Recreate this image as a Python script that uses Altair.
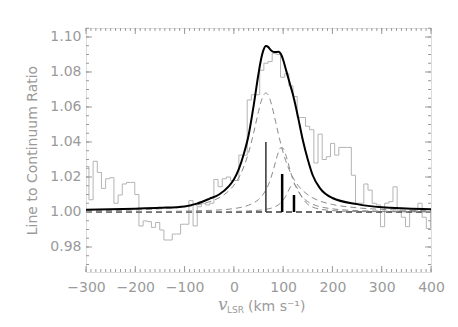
import altair as alt
import pandas as pd
import numpy as np

# ---------------- data ----------------
# observed spectrum: channel width and first channel edge (km/s)
chan_width = 8.45
first_edge = -302.45
hist_values = [
    1.026, 1.007, 1.029, 1.0226, 1.0135, 1.019, 1.0196, 1.005, 1.0097, 1.0160,
    1.0169, 1.0169, 1.0100, 0.9920, 0.9949, 0.9945, 0.9912, 0.9940, 0.9897, 0.9840,
    0.9840, 0.9874, 0.9874, 0.9930, 0.9930, 1.0065, 0.9920, 1.0030, 1.0050, 1.0040,
    1.0050, 1.0186, 1.0145, 1.0190, 1.0200, 1.0180, 1.0180, 1.0325, 1.0325, 1.0640,
    1.0670, 1.0670, 1.0810, 1.0850, 1.0860, 1.0906, 1.0900, 1.0770, 1.0790, 1.0720,
    1.0660, 1.0540, 1.0540, 1.0490, 1.0470, 1.0280, 1.0445, 1.0300, 1.0316, 1.0392,
    1.0325, 1.0369, 1.0369, 1.0369, 1.0210, 1.0050, 1.0050, 1.0160, 1.0125, 1.0050,
    1.0040, 0.9916, 1.0050, 1.0059, 1.0144, 1.0010, 0.9970, 0.9916, 1.0010, 1.0010,
    1.0050, 0.9970, 0.9906, 1.0010,
]

# model curves, sampled at these velocities
model_v = [-300, -250, -200, -150, -100, -75, -50, -30, -10, 0, 10, 20, 30, 40, 50,
           55, 60, 65, 70, 75, 80, 85, 90, 95, 100, 105, 110, 115, 120, 125, 130,
           140, 150, 160, 175, 200, 250, 300, 350, 400]
model_total = [1.0013, 1.0015, 1.0019, 1.0024, 1.0032, 1.0048, 1.0075, 1.0100, 1.0148,
               1.0185, 1.0245, 1.0330, 1.0440, 1.0605, 1.0790, 1.0870, 1.0925, 1.0948,
               1.0942, 1.0925, 1.0915, 1.0914, 1.0915, 1.0905, 1.0870, 1.0820, 1.0770,
               1.0720, 1.0670, 1.0610, 1.0545, 1.0410, 1.0300, 1.0210, 1.0135, 1.0080,
               1.0045, 1.0027, 1.0020, 1.0016]
comp1 = [1.0006, 1.0008, 1.0012, 1.0018, 1.0029, 1.0040, 1.0058, 1.0081, 1.0122, 1.0153,
         1.0196, 1.0257, 1.0340, 1.0450, 1.0574, 1.0629, 1.0667, 1.0680, 1.0667, 1.0629,
         1.0574, 1.0512, 1.0450, 1.0392, 1.0340, 1.0295, 1.0257, 1.0224, 1.0196, 1.0173,
         1.0153, 1.0122, 1.0099, 1.0081, 1.0062, 1.0043, 1.0024, 1.0015, 1.0010, 1.0007]
comp2 = [1.0001, 1.0002, 1.0002, 1.0003, 1.0005, 1.0007, 1.0009, 1.0012, 1.0016, 1.0020,
         1.0024, 1.0030, 1.0039, 1.0052, 1.0071, 1.0085, 1.0103, 1.0126, 1.0155, 1.0193,
         1.0239, 1.0291, 1.0339, 1.0367, 1.0364, 1.0330, 1.0281, 1.0230, 1.0185, 1.0149,
         1.0121, 1.0082, 1.0059, 1.0044, 1.0030, 1.0018, 1.0008, 1.0005, 1.0003, 1.0002]
comp3 = [1.0000, 1.0001, 1.0001, 1.0001, 1.0001, 1.0002, 1.0002, 1.0002, 1.0003, 1.0004,
         1.0004, 1.0005, 1.0006, 1.0008, 1.0010, 1.0011, 1.0013, 1.0015, 1.0018, 1.0021,
         1.0026, 1.0032, 1.0040, 1.0052, 1.0068, 1.0089, 1.0117, 1.0144, 1.0160, 1.0153,
         1.0128, 1.0076, 1.0044, 1.0028, 1.0016, 1.0008, 1.0003, 1.0002, 1.0001, 1.0001]

# component markers (sticks)
stick_v = [65, 98, 122]
stick_top = [1.040, 1.0217, 1.0097]

# axis ticks
x_major = [-300, -200, -100, 0, 100, 200, 300, 400]
y_major = [0.98, 1.00, 1.02, 1.04, 1.06, 1.08, 1.10]

# ---------------- layout ----------------
W, H = 345, 244
XDOM = [-300, 400]
YDOM = [0.96571, 1.10514]
GREY = "#9a9a9a"
FONT = "DejaVu Sans"

xs = alt.Scale(domain=XDOM, nice=False, zero=False)
ys = alt.Scale(domain=YDOM, nice=False, zero=False)

edges = [round(first_edge + i * chan_width, 2) for i in range(len(hist_values) + 1)]
hist_df = pd.DataFrame({"v": edges, "r": hist_values + [hist_values[-1]]})

model_df = pd.DataFrame({"v": model_v, "total": model_total,
                         "c1": comp1, "c2": comp2, "c3": comp3})
comp_long = model_df.melt(id_vars="v", value_vars=["c1", "c2", "c3"],
                          var_name="comp", value_name="r")

x_enc = alt.X("v:Q", scale=xs,
              axis=alt.Axis(values=x_major, ticks=False, domain=False, grid=False,
                            labelFontSize=14, labelColor=GREY, labelFont=FONT,
                            labelPadding=8, title=None, format="d",
                            labelOverlap=False, labelBound=False, labelFlush=False))
y_enc = alt.Y("r:Q", scale=ys,
              axis=alt.Axis(values=y_major, ticks=False, domain=False, grid=False,
                            labelFontSize=14, labelColor=GREY, labelFont=FONT,
                            labelPadding=5, format=".2f", labelOverlap=False,
                            title="Line to Continuum Ratio", titleFontSize=14,
                            titleColor=GREY, titleFont=FONT, titleFontWeight="normal",
                            titlePadding=10))

hist = alt.Chart(hist_df).mark_line(interpolate="step-after", color="#b4b4b4",
                                    strokeWidth=1, clip=True).encode(x=x_enc, y=y_enc)

baseline = alt.Chart(pd.DataFrame({"v": XDOM, "r": [1.0, 1.0]})).mark_line(
    color="#6a6a6a", strokeWidth=2, strokeDash=[6, 4]).encode(
    x=alt.X("v:Q", scale=xs), y=alt.Y("r:Q", scale=ys))

comps = alt.Chart(comp_long).mark_line(
    color="#8a8a8a", strokeWidth=1, strokeDash=[6, 4], interpolate="monotone",
    clip=True).encode(x=alt.X("v:Q", scale=xs), y=alt.Y("r:Q", scale=ys),
                      detail="comp:N")

total = alt.Chart(model_df).mark_line(color="black", strokeWidth=2,
                                      interpolate="monotone", clip=True).encode(
    x=alt.X("v:Q", scale=xs), y=alt.Y("total:Q", scale=ys))

stick_df = pd.DataFrame({"v": stick_v, "top": stick_top, "base": [1.0] * 3,
                         "w": [1.5, 2.5, 2.5], "c": ["#333333", "black", "black"]})
sticks = alt.Chart(stick_df).mark_rule().encode(
    x=alt.X("v:Q", scale=xs), y=alt.Y("base:Q", scale=ys), y2="top:Q",
    strokeWidth=alt.StrokeWidth("w:Q", scale=None),
    color=alt.Color("c:N", scale=None))

# inward ticks on all four sides
x_minor = list(range(-300, 401, 10))
y_minor = [round(0.97 + 0.005 * i, 3) for i in range(28)]
xt_maj = pd.DataFrame({"v": x_major})
xt_min = pd.DataFrame({"v": x_minor})
yt_maj = pd.DataFrame({"r": y_major})
yt_min = pd.DataFrame({"r": y_minor})
tick_style = dict(color=GREY, strokeWidth=1)
ticks = []
for df, ln in ((xt_maj, 6), (xt_min, 3)):
    ticks.append(alt.Chart(df).mark_rule(**tick_style).encode(
        x=alt.X("v:Q", scale=xs), y=alt.value(H), y2=alt.value(H - ln)))
    ticks.append(alt.Chart(df).mark_rule(**tick_style).encode(
        x=alt.X("v:Q", scale=xs), y=alt.value(0), y2=alt.value(ln)))
for df, ln in ((yt_maj, 6), (yt_min, 3)):
    ticks.append(alt.Chart(df).mark_rule(**tick_style).encode(
        y=alt.Y("r:Q", scale=ys), x=alt.value(0), x2=alt.value(ln)))
    ticks.append(alt.Chart(df).mark_rule(**tick_style).encode(
        y=alt.Y("r:Q", scale=ys), x=alt.value(W), x2=alt.value(W - ln)))

# x axis title: v_LSR (km s^-1)
one = pd.DataFrame({"a": [0]})
t_v = alt.Chart(one).mark_text(text="v", font="DejaVu Serif", fontStyle="italic",
                               fontSize=17, color=GREY, align="left",
                               baseline="alphabetic").encode(
    x=alt.value(132), y=alt.value(282))
t_lsr = alt.Chart(one).mark_text(text="LSR", font=FONT, fontSize=9, color=GREY,
                                 align="left", baseline="alphabetic").encode(
    x=alt.value(141), y=alt.value(285))
t_unit = alt.Chart(one).mark_text(text="(km s⁻¹)", font=FONT, fontSize=14, color=GREY,
                                  align="left", baseline="alphabetic").encode(
    x=alt.value(162), y=alt.value(283))

chart = alt.layer(hist, baseline, comps, total, sticks, *ticks, t_v, t_lsr, t_unit).properties(
    width=W, height=H,
    padding={"left": 78, "top": 20, "right": 17, "bottom": 45},
    autosize=alt.AutoSizeParams(type="none"),
).configure_view(stroke=GREY, strokeWidth=1).configure(background="white")

chart.save("out.html", embed_options={"renderer": "svg", "actions": False})
